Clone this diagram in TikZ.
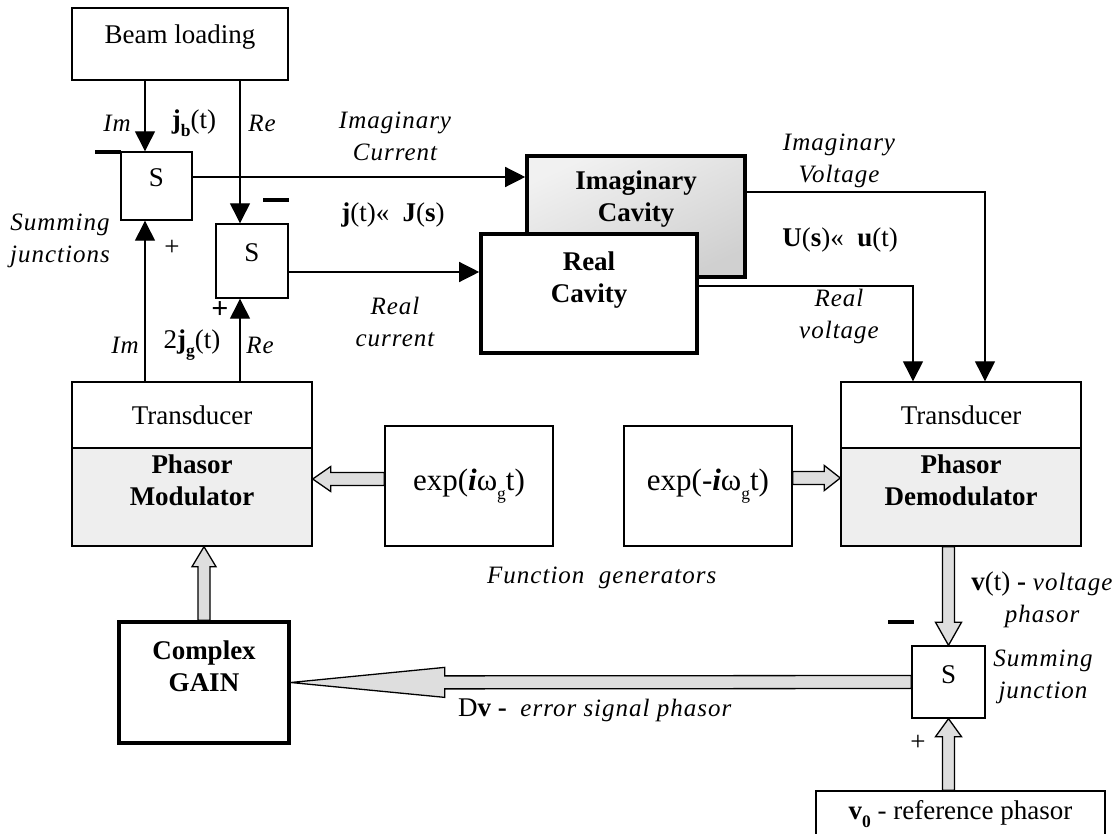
\documentclass[tikz,border=0pt]{standalone}
\usepackage{fontspec}
\setmainfont{Liberation Serif}
\newfontfamily\spacedit[LetterSpace=4,ItalicFont={Liberation Serif Italic}]{Liberation Serif Italic}
\usetikzlibrary{calc,arrows.meta}
\definecolor{modfill}{HTML}{EEEEEE}
\definecolor{arrfill}{HTML}{DEDEDE}
\definecolor{cavtop}{HTML}{F1F1F1}
\definecolor{cavbot}{HTML}{D0D0D0}
\newcommand{\lowidx}[1]{\raisebox{-0.28em}{\fontsize{17.5}{17.5}\selectfont #1}}
\newcommand{\blockarrow}[5]{%
  \coordinate (bah) at ($(#2)!#5!(#1)$);
  \draw[hollow]
    ($(#1)!#3!90:(#2)$) --
    ($(bah)!#3!90:(#2)$) --
    ($(bah)!#4!90:(#2)$) --
    (#2) --
    ($(bah)!#4!-90:(#2)$) --
    ($(bah)!#3!-90:(#2)$) --
    ($(#1)!#3!-90:(#2)$) -- cycle;}
\begin{document}
\begin{tikzpicture}[x=1pt,y=-1pt,
  every node/.style={font=\fontsize{27}{32}\selectfont, inner sep=0pt},
  box/.style={draw, line width=1.4pt, fill=white},
  thickbox/.style={draw, line width=3.6pt, fill=white},
  arr/.style={line width=1.3pt, -{Triangle[length=20pt,width=20pt]}},
  hollow/.style={draw, line width=1.3pt, fill=arrfill, line join=miter},
  minusmark/.style={line width=4pt},
  lbl/.style={font=\fontsize{25}{32}\selectfont\spacedit, align=center},
  boldlbl/.style={font=\fontsize{27}{32}\selectfont\bfseries, align=center},
]
\useasboundingbox (0,0) rectangle (1118,834);

% ---------- boxes ----------
\node[box, minimum width=216pt, minimum height=72pt,
      label={[yshift=7pt]center:Beam loading}] (beam) at (180,44) {};
\node[box, minimum width=71pt, minimum height=68pt,
      label={[yshift=8pt]center:S}] (S1) at (156.5,186) {};
\node[box, minimum width=72pt, minimum height=74pt,
      label={[yshift=8pt]center:S}] (S2) at (252,261) {};
\node[thickbox, minimum width=218pt, minimum height=121pt,
      top color=cavtop, bottom color=cavbot, shading angle=25,
      label={[yshift=17.5pt, boldlbl]center:Imaginary\\Cavity}] (icav) at (636,216.5) {};
\node[thickbox, minimum width=216pt, minimum height=119pt,
      label={[yshift=13.5pt, boldlbl]center:Real\\Cavity}] (rcav) at (589,293.5) {};

\node[box, minimum width=240pt, minimum height=66pt] (trans1) at (192,415) {Transducer};
\node[box, fill=modfill, minimum width=240pt, minimum height=98pt,
      label={[yshift=17pt, boldlbl]center:Phasor\\Modulator}] (mod) at (192,497) {};
\node[box, minimum width=168pt, minimum height=120pt] (exp1) at (469,486)
      {\fontsize{31}{31}\selectfont exp(\textbf{\textit{i}}ω\lowidx{g}t)};
\node[box, minimum width=168pt, minimum height=120pt] (exp2) at (708,486)
      {\fontsize{31}{31}\selectfont exp(-\textbf{\textit{i}}ω\lowidx{g}t)};
\node[box, minimum width=240pt, minimum height=66pt] (trans2) at (961,415) {Transducer};
\node[box, fill=modfill, minimum width=240pt, minimum height=98pt,
      label={[yshift=17pt, boldlbl]center:Phasor\\Demodulator}] (demod) at (961,497) {};

\node[thickbox, minimum width=170pt, minimum height=121pt,
      label={[yshift=16.5pt, boldlbl]center:Complex\\GAIN}] (gain) at (204,682.5) {};
\node[box, minimum width=73pt, minimum height=72pt,
      label={[yshift=7pt]center:S}] (S3) at (948.5,682) {};
\node[box, minimum width=289pt, minimum height=46pt] (ref) at (960.5,814)
      {\textbf{v}\lowidx{\textbf{0}} - reference phasor};

% ---------- helper coordinates ----------
\coordinate (imx) at (145,0);
\coordinate (rex) at (240,0);
\coordinate (y1) at (0,177);
\coordinate (y2) at (0,272);
\coordinate (y3) at (0,192);
\coordinate (y4) at (0,286);
\coordinate (vx1) at (985,0);
\coordinate (vx2) at (913,0);

% ---------- thin connectors ----------
\draw[arr] (beam.south -| imx) -- (S1.north -| imx);
\draw[arr] (beam.south -| rex) -- (S2.north -| rex);
\draw[arr] (S1.east |- y1) -- (icav.west |- y1);
\draw[arr] (S2.east |- y2) -- (rcav.west |- y2);
\draw[arr] (trans1.north -| imx) -- (S1.south -| imx);
\draw[arr] (trans1.north -| rex) -- (S2.south -| rex);
\draw[arr] (icav.east |- y3) -| (trans2.north -| vx1);
\draw[arr] (rcav.east |- y4) -| (trans2.north -| vx2);

% ---------- block arrows ----------
\path (exp1.west) ++(0,-7) coordinate (a1s);
\coordinate (a1t) at (a1s -| mod.east);
\blockarrow{a1s}{a1t}{6.5pt}{12.5pt}{18pt}
\path (exp2.east) ++(0,-8) coordinate (a2s);
\coordinate (a2t) at (a2s -| demod.west);
\blockarrow{a2s}{a2t}{6.5pt}{12.5pt}{16pt}
\coordinate (a3s) at (S3.north |- demod.south);
\blockarrow{a3s}{S3.north}{6pt}{13pt}{23pt}
\coordinate (a4t) at (gain.north |- mod.south);
\blockarrow{gain.north}{a4t}{6pt}{12pt}{20pt}
\coordinate (a5s) at (S3.south |- ref.north);
\blockarrow{a5s}{S3.south}{6pt}{13pt}{18pt}
\blockarrow{S3.west}{gain.east}{6.5pt}{15pt}{154pt}

% ---------- signs ----------
\draw[minusmark] (95,152) -- (121,152);
\draw[minusmark] (263,200) -- (289,200);
\draw[minusmark] (888,622) -- (914,622);
\node (p1) at (172,248) {+};
\node (p2) at (220,310) {\fontsize{30}{30}\selectfont\textbf{+}};
\node (p3) at (918,743) {+};

% ---------- labels ----------
\node[lbl] (imL) at (117,123) {Im};
\node (jb) at (194,123) {\textbf{j}\lowidx{\textbf{b}}(t)};
\node[lbl] (reL) at (262,123) {Re};
\node[lbl] (icur) at (395,136.5) {Imaginary\\Current};
\node (jJ) at (393,215) {\textbf{j}(t)«\ \ \textbf{J}(\textbf{s})};
\node[lbl] (ivolt) at (839,161) {Imaginary\\Voltage};
\node (Uu) at (840,240) {\textbf{U}(\textbf{s})«\ \ \textbf{u}(t)};
\node[lbl] (rvolt) at (839,316) {Real\\voltage};
\node[lbl] (rcur) at (395,322) {Real\\current};
\node[lbl] (imL2) at (125,345) {Im};
\node (jg) at (192,345) {2\textbf{j}\lowidx{\textbf{g}}(t)};
\node[lbl] (reL2) at (260,345) {Re};
\node[lbl] (sumj) at (60,241) {Summing\\junctions};
\node[lbl, anchor=west] (fgen) at (487,578) {Function\ \ generators};
\node[anchor=west] (err) at (458,710) {D\textbf{v -}\ \ {\fontsize{25}{32}\selectfont\spacedit error signal phasor}};
\node[align=center] (vph) at (1042,600) {\textbf{v}(t) \textbf{-} {\fontsize{25}{32}\selectfont\spacedit voltage}\\{\fontsize{25}{32}\selectfont\spacedit phasor}};
\node[lbl] (sumj3) at (1043,676.5) {Summing\\junction};
\end{tikzpicture}
\end{document}
